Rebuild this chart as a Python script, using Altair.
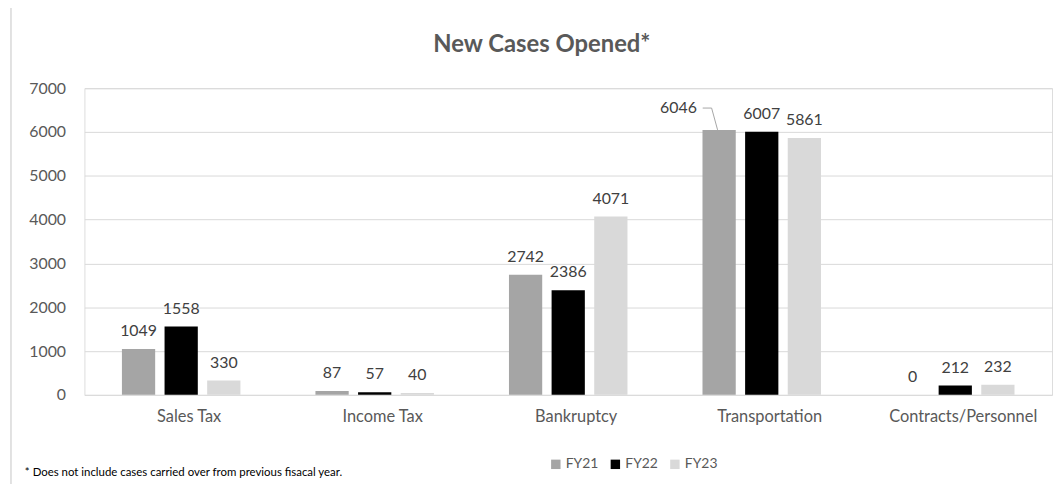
import altair as alt
import pandas as pd

categories = ["Sales Tax", "Income Tax", "Bankruptcy", "Transportation", "Contracts/Personnel"]
series = ["FY21", "FY22", "FY23"]
fy21 = [1049, 87, 2742, 6046, 0]
fy22 = [1558, 57, 2386, 6007, 212]
fy23 = [330, 40, 4071, 5861, 232]
colors = ["#A5A5A5", "#000000", "#D9D9D9"]
title_text = "New Cases Opened*"
footnote = "* Does not include cases carried over from previous fisacal year."
y_ticks = [0, 1000, 2000, 3000, 4000, 5000, 6000, 7000]

rows = []
for i, c in enumerate(categories):
    for s, vals in zip(series, [fy21, fy22, fy23]):
        rows.append({"category": c, "series": s, "value": vals[i]})
df = pd.DataFrame(rows)

FONT = "Lato"
TXT = "#595959"

x_enc = alt.X("category:N", sort=categories,
              scale=alt.Scale(paddingInner=0, paddingOuter=0),
              axis=alt.Axis(title=None, labelAngle=0, domain=False, ticks=False,
                            labelPadding=14, labelFontSize=16.5, labelColor=TXT,
                            labelFont=FONT, labelOffset=8))
xo_enc = alt.XOffset("series:N", sort=series,
                     scale=alt.Scale(paddingInner=0.22, paddingOuter=0.88))
y_enc = alt.Y("value:Q", scale=alt.Scale(domain=[0, 7000], nice=False),
              axis=alt.Axis(title=None, values=y_ticks, format="d", domain=False,
                            ticks=False, gridColor="#D9D9D9", labelPadding=19,
                            labelFontSize=16, labelColor=TXT, labelFont=FONT))
color_enc = alt.Color("series:N", sort=series,
                      scale=alt.Scale(domain=series, range=colors),
                      legend=alt.Legend(title=None, orient="none", legendX=468,
                                        legendY=372, direction="horizontal",
                                        symbolType="square", symbolSize=90,
                                        symbolStrokeWidth=0, labelFontSize=14,
                                        labelColor=TXT, labelFont=FONT,
                                        columnPadding=10, labelOffset=3))

base = alt.Chart(df)

bars = base.mark_bar().encode(x=x_enc, xOffset=xo_enc, y=y_enc, color=color_enc)

is_special = (alt.datum.category == "Transportation") & (alt.datum.series == "FY21")

labels = base.mark_text(baseline="alphabetic", dy=-13, fontSize=16, font=FONT,
                        color="#404040").encode(
    x=alt.X("category:N", sort=categories), xOffset=alt.XOffset("series:N", sort=series),
    y="value:Q", text="value:Q"
).transform_filter(~is_special)

special = base.mark_text(baseline="alphabetic", dx=-41, dy=-17, fontSize=16, font=FONT,
                         color="#404040").encode(
    x=alt.X("category:N", sort=categories), xOffset=alt.XOffset("series:N", sort=series),
    y="value:Q", text="value:Q"
).transform_filter(is_special)

leader_h = base.mark_rule(color="#A5A5A5", strokeWidth=1).encode(
    x=alt.value(623), x2=alt.value(632), y=alt.value(20)
).transform_filter(is_special)
leader_s = base.mark_rule(color="#A5A5A5", strokeWidth=1).encode(
    x=alt.value(632), x2=alt.value(638), y=alt.value(20), y2=alt.value(42)
).transform_filter(is_special)

title = alt.Chart(pd.DataFrame({"t": [title_text]})).mark_text(
    align="center", baseline="alphabetic", fontSize=24, fontWeight="bold",
    font=FONT, color=TXT
).encode(x=alt.value(461), y=alt.value(-36), text="t:N")

note = alt.Chart(pd.DataFrame({"t": [footnote]})).mark_text(
    align="left", baseline="alphabetic", fontSize=11.5, font=FONT, color="#000000"
).encode(x=alt.value(-60), y=alt.value(391), text="t:N")

frame = alt.Chart(pd.DataFrame({"a": [0]})).mark_rect(
    fill=None, stroke="#D9D9D9", strokeWidth=1.5
).encode(x=alt.value(-74), x2=alt.value(1000), y=alt.value(-82), y2=alt.value(430))

chart = alt.layer(frame, title, bars, labels, special, leader_h, leader_s, note).properties(
    width=975, height=309,
    autosize=alt.AutoSizeParams(type="none"),
    padding={"left": 77, "top": 79, "right": 3, "bottom": 88},
).configure_view(stroke=None).configure(background="white")

chart.save("out.html", embed_options={"renderer": "svg", "actions": False})
